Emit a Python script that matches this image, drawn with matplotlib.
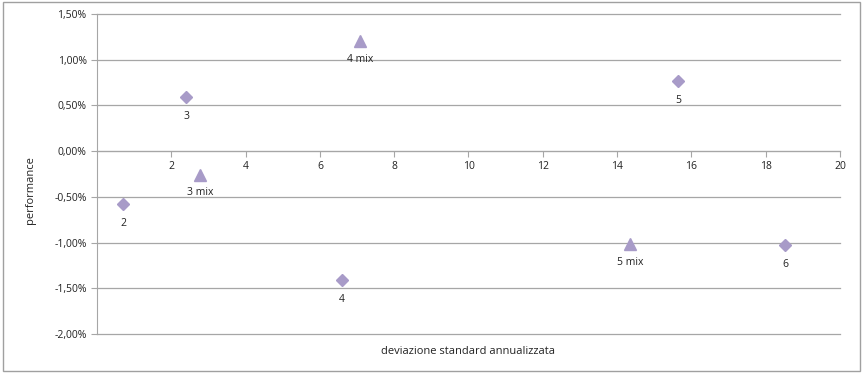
import matplotlib.pyplot as plt
from matplotlib.ticker import FuncFormatter, MultipleLocator

# diamond series
base_names = ["2", "3", "4", "5", "6"]
base_x = [0.70, 2.40, 6.60, 15.64, 18.52]
base_y = [-0.58, 0.59, -1.41, 0.77, -1.03]

# triangle series (mix)
mix_names = ["3 mix", "4 mix", "5 mix"]
mix_x = [2.77, 7.08, 14.35]
mix_y = [-0.26, 1.20, -1.02]

col = "#a89bc8"
grid_col = "#a6a6a6"
plt.rcParams['font.family'] = ['Open Sans', 'DejaVu Sans']

fig = plt.figure(figsize=(8.63, 3.73), dpi=100)
ax = fig.add_axes([0.1124, 0.1046, 0.8609, 0.8579])

ax.plot(base_x, base_y, linestyle='none', marker='D', markersize=6, color=col, zorder=3)
ax.plot(mix_x, mix_y, linestyle='none', marker='^', markersize=8, color=col, zorder=3)

for n, x, y in zip(base_names, base_x, base_y):
    ax.annotate(n, (x, y), xytext=(0, -10), textcoords='offset points',
                ha='center', va='top', fontsize=7.5, color='#222222')
for n, x, y in zip(mix_names, mix_x, mix_y):
    ax.annotate(n, (x, y), xytext=(0, -9), textcoords='offset points',
                ha='center', va='top', fontsize=7.5, color='#222222')

ax.set_xlim(0, 20)
ax.set_ylim(-2.0, 1.5)
ax.set_xticks(range(2, 21, 2))
ax.yaxis.set_major_locator(MultipleLocator(0.5))
ax.yaxis.set_major_formatter(FuncFormatter(lambda v, p: ("%.2f%%" % v).replace('.', ',')))

ax.grid(axis='y', color=grid_col, linewidth=0.9)
for gl in ax.get_ygridlines():
    gl.set_clip_on(False)
ax.set_axisbelow(True)
for s in ['top', 'right']:
    ax.spines[s].set_visible(False)
ax.spines['bottom'].set_position(('data', 0))
ax.spines['bottom'].set_color(grid_col)
ax.spines['left'].set_color(grid_col)
ax.tick_params(axis='both', colors=grid_col, labelcolor='#222222', labelsize=7.5, length=4)
ax.tick_params(axis='x', pad=3)

fig.text(0.5425, 0.057, "deviazione standard annualizzata", ha='center', va='center',
         fontsize=8, color='#222222')
fig.text(0.035, 0.49, "performance", ha='center', va='center', rotation=90,
         fontsize=8, color='#222222')

border = plt.Rectangle((0.003, 0.006), 0.994, 0.988, transform=fig.transFigure,
                       fill=False, edgecolor='#a0a0a0', linewidth=1)
fig.patches.append(border)

fig.savefig("out.png", dpi=100)
